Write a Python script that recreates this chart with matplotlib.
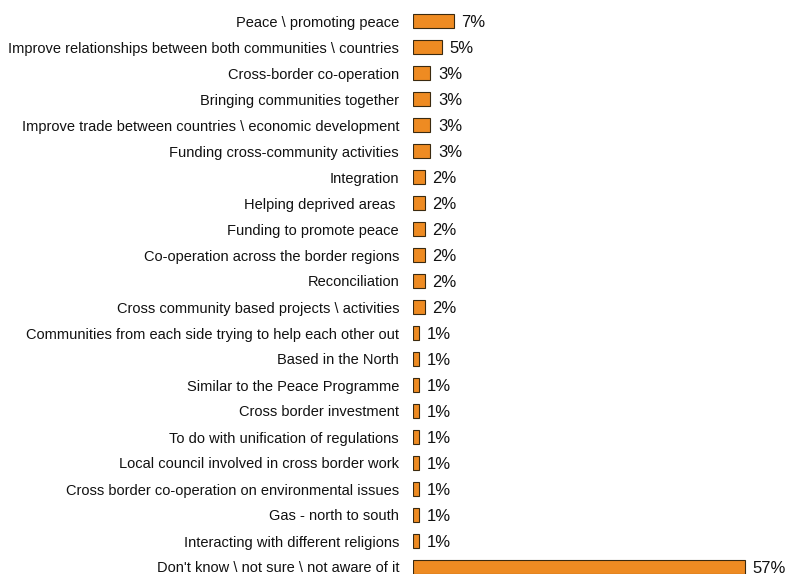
import matplotlib
matplotlib.use('Agg')
import matplotlib.pyplot as plt

plt.rcParams['font.family'] = ['Liberation Sans', 'DejaVu Sans']

# answers, top to bottom
labels = [
    'Peace \\ promoting peace',
    'Improve relationships between both communities \\ countries',
    'Cross-border co-operation',
    'Bringing communities together',
    'Improve trade between countries \\ economic development',
    'Funding cross-community activities',
    'Integration',
    'Helping deprived areas ',
    'Funding to promote peace',
    'Co-operation across the border regions',
    'Reconciliation',
    'Cross community based projects \\ activities',
    'Communities from each side trying to help each other out',
    'Based in the North',
    'Similar to the Peace Programme',
    'Cross border investment',
    'To do with unification of regulations',
    'Local council involved in cross border work',
    'Cross border co-operation on environmental issues',
    'Gas - north to south',
    'Interacting with different religions',
    "Don't know \\ not sure \\ not aware of it",
]
values = [7, 5, 3, 3, 3, 3, 2, 2, 2, 2, 2, 2, 1, 1, 1, 1, 1, 1, 1, 1, 1, 57]

fig = plt.figure(figsize=(7.89, 5.74), dpi=100)
ax = fig.add_axes([413 / 789, 0, 1 - 413 / 789, 1])

pos = list(range(len(values)))
ax.barh(pos, values, height=0.54, color='#EE8B22', edgecolor='#3a2a10', linewidth=0.8)
for p, v in zip(pos, values):
    ax.text(v + 1.3, p + 0.04, f'{v}%', va='center', ha='left', fontsize=12, color='#111111')

ax.set_yticks(pos)
ax.set_yticklabels(labels, fontsize=10.5, color='#111111')
ax.tick_params(axis='y', length=0, pad=10)
ax.set_xticks([])
ax.set_xlim(0, 64.5)
ax.set_ylim(553 / 26, -21 / 26)
for s in ax.spines.values():
    s.set_visible(False)

fig.savefig('out.png', dpi=100)
